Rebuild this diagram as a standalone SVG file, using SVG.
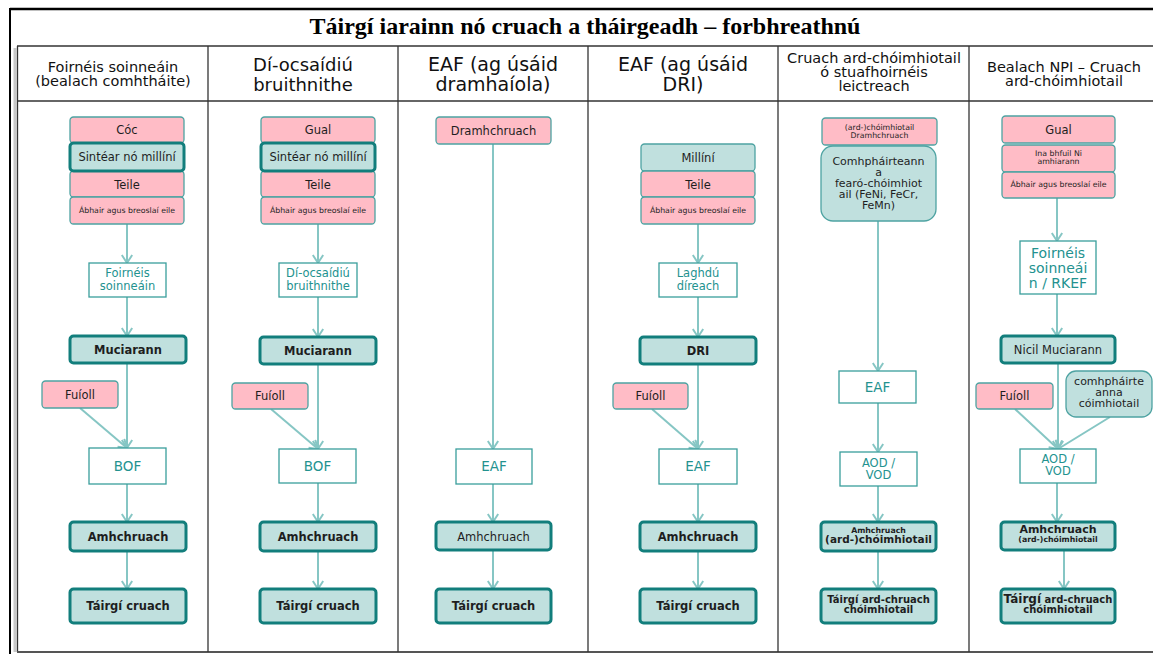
<svg xmlns="http://www.w3.org/2000/svg" width="1153" height="654" viewBox="0 0 1153 654">
<style>
.pk{fill:#FFBCC6;stroke:#4EA3A2;stroke-width:1.3}
.tl{fill:#C0E0DE;stroke:#4EA3A2;stroke-width:1.3}
.tk{fill:#C0E0DE;stroke:#127E7C;stroke-width:3}
.wb{fill:#FFFFFF;stroke:#3A9E9C;stroke-width:1.3}
text{font-family:"DejaVu Sans",Verdana,sans-serif;text-anchor:middle;fill:#1e1e1e}
.s12{font-size:11.5px}
.s11{font-size:11px}
.s7{font-size:7.8px}
.tt{fill:#23928F}
.b{font-weight:bold}
.hd{font-size:19px;fill:#111}
.hs{font-size:14.5px;fill:#111}
.c{stroke:#86C6C4;stroke-width:2;fill:none;marker-end:url(#ah)}
.grid{stroke:#333;stroke-width:1.3;fill:none}
</style>
<defs>
<marker id="ah" markerUnits="userSpaceOnUse" markerWidth="12" markerHeight="12" viewBox="0 0 12 12" refX="10" refY="6" orient="auto">
<path d="M2,0.8 L10,6 L2,11.2" fill="none" stroke="#86C6C4" stroke-width="2"/>
</marker>
</defs>
<rect width="1153" height="654" fill="#FFFFFF"/>
<g id="frame">
<line x1="10" y1="9" x2="1153" y2="9" stroke="#000" stroke-width="2.5"/>
<line x1="10" y1="8" x2="10" y2="654" stroke="#000" stroke-width="2"/>
<line x1="15" y1="48" x2="15" y2="652" stroke="#C8C8C8" stroke-width="3"/>
<text x="585" y="34" style="font-family:'Liberation Serif','Times New Roman',serif;font-weight:bold;font-size:24px;fill:#000">Táirgí iarainn nó cruach a tháirgeadh – forbhreathnú</text>
<line class="grid" x1="17" y1="46" x2="1153" y2="46"/>
<line class="grid" x1="17" y1="101" x2="1153" y2="101"/>
<line class="grid" x1="17.5" y1="46" x2="17.5" y2="652"/>
<line x1="17" y1="652" x2="1153" y2="652" stroke="#555" stroke-width="2"/>
<line class="grid" x1="208" y1="46" x2="208" y2="652"/>
<line class="grid" x1="398" y1="46" x2="398" y2="652"/>
<line class="grid" x1="588" y1="46" x2="588" y2="652"/>
<line class="grid" x1="778" y1="46" x2="778" y2="652"/>
<line class="grid" x1="969" y1="46" x2="969" y2="652"/>
</g>
<g id="headers">
<text class="hs" x="113" y="72">Foirnéis soinneáin</text>
<text class="hs" x="113" y="86">(bealach comhtháite)</text>
<text class="hd" style="font-size:18px" x="303" y="71">Dí-ocsaídiú</text>
<text class="hd" style="font-size:18px" x="303" y="91">bruithnithe</text>
<text class="hd" x="493" y="71">EAF (ag úsáid</text>
<text class="hd" x="493" y="91">dramhaíola)</text>
<text class="hd" x="683" y="71">EAF (ag úsáid</text>
<text class="hd" x="683" y="91">DRI)</text>
<text class="hs" x="874" y="63">Cruach ard-chóimhiotail</text>
<text class="hs" x="874" y="77">ó stuafhoirnéis</text>
<text class="hs" x="874" y="91">leictreach</text>
<text class="hs" x="1064" y="72">Bealach NPI – Cruach</text>
<text class="hs" x="1064" y="86">ard-chóimhiotail</text>
</g>
<g id="connectors">
<path class="c" d="M127,224 V263"/>
<path class="c" d="M127,297 V336"/>
<path class="c" d="M127,363 V448"/>
<path class="c" d="M80,408 L127,448"/>
<path class="c" d="M127,484 V522"/>
<path class="c" d="M127,551 V589"/>
<path class="c" d="M318,224 V263"/>
<path class="c" d="M318,297 V337"/>
<path class="c" d="M318,364 V449"/>
<path class="c" d="M271,409 L318,449"/>
<path class="c" d="M318,483 V522"/>
<path class="c" d="M318,551 V589"/>
<path class="c" d="M493,144 V449"/>
<path class="c" d="M493,484 V522"/>
<path class="c" d="M493,550 V589"/>
<path class="c" d="M698,224 V263"/>
<path class="c" d="M698,297 V337"/>
<path class="c" d="M698,364 V449"/>
<path class="c" d="M652,409 L698,449"/>
<path class="c" d="M698,484 V522"/>
<path class="c" d="M698,551 V589"/>
<path class="c" d="M878,221 V371"/>
<path class="c" d="M878,403 V452"/>
<path class="c" d="M878,486 V522"/>
<path class="c" d="M878,551 V589"/>
<path class="c" d="M1057,198 V241"/>
<path class="c" d="M1057,294 V336"/>
<path class="c" d="M1058,363 V449"/>
<path class="c" d="M1015,409 L1058,449"/>
<path class="c" d="M1110,417 L1058,449"/>
<path class="c" d="M1057,483 V522"/>
<path class="c" d="M1064,550 V589"/>
</g>
<!-- Column 1 -->
<g id="c1-coc"><rect class="pk" x="70" y="117" width="114" height="26" rx="3.5"/><text class="s12" x="127" y="134">Cóc</text></g>
<g id="c1-teile"><rect class="pk" x="70" y="171" width="114" height="26" rx="3.5"/><text class="s12" x="127" y="188.5">Teile</text></g>
<g id="c1-abhair"><rect class="pk" x="70" y="197" width="114" height="27" rx="3.5"/><text class="s7" x="127" y="213">Ábhair agus breoslaí eile</text></g>
<g id="c1-sintear"><rect class="tk" x="70" y="143" width="114" height="28" rx="3.5"/><text class="s12" x="127" y="161">Sintéar nó millíní</text></g>
<g id="c1-foirneis"><rect class="wb" x="89" y="263" width="77" height="34"/><text class="s12 tt" x="127.5" y="277">Foirnéis</text><text class="s12 tt" x="127.5" y="290">soinneáin</text></g>
<g id="c1-muciarann"><rect class="tk" x="70" y="336" width="116" height="27" rx="3.5"/><text class="s12 b" x="128" y="354">Muciarann</text></g>
<g id="c1-fuioll"><rect class="pk" x="42" y="381" width="76" height="27" rx="3.5"/><text class="s12" x="80" y="398.5">Fuíoll</text></g>
<g id="c1-bof"><rect class="wb" x="89" y="448" width="77" height="36"/><text class="tt" style="font-size:13.5px" x="127.5" y="471">BOF</text></g>
<g id="c1-amh"><rect class="tk" x="70" y="522" width="116" height="29" rx="3.5"/><text class="s12 b" x="128" y="541">Amhchruach</text></g>
<g id="c1-tairgi"><rect class="tk" x="70" y="589" width="116" height="34" rx="3.5"/><text class="s12 b" x="128" y="610">Táirgí cruach</text></g>
<!-- Column 2 -->
<g id="c2-gual"><rect class="pk" x="261" y="117" width="114" height="26" rx="3.5"/><text class="s12" x="318" y="134">Gual</text></g>
<g id="c2-teile"><rect class="pk" x="261" y="171" width="114" height="26" rx="3.5"/><text class="s12" x="318" y="188.5">Teile</text></g>
<g id="c2-abhair"><rect class="pk" x="261" y="197" width="114" height="27" rx="3.5"/><text class="s7" x="318" y="213">Ábhair agus breoslaí eile</text></g>
<g id="c2-sintear"><rect class="tk" x="261" y="143" width="114" height="28" rx="3.5"/><text class="s12" x="318" y="161">Sintéar nó millíní</text></g>
<g id="c2-dri"><rect class="wb" x="279" y="263" width="78" height="34"/><text class="s12 tt" x="318" y="277">Dí-ocsaídiú</text><text class="s12 tt" x="318" y="290">bruithnithe</text></g>
<g id="c2-muciarann"><rect class="tk" x="260" y="337" width="116" height="27" rx="3.5"/><text class="s12 b" x="318" y="355">Muciarann</text></g>
<g id="c2-fuioll"><rect class="pk" x="232" y="383" width="76" height="26" rx="3.5"/><text class="s12" x="270" y="400">Fuíoll</text></g>
<g id="c2-bof"><rect class="wb" x="279" y="449" width="77" height="34"/><text class="tt" style="font-size:13.5px" x="317.5" y="471">BOF</text></g>
<g id="c2-amh"><rect class="tk" x="260" y="522" width="116" height="29" rx="3.5"/><text class="s12 b" x="318" y="541">Amhchruach</text></g>
<g id="c2-tairgi"><rect class="tk" x="260" y="589" width="116" height="34" rx="3.5"/><text class="s12 b" x="318" y="610">Táirgí cruach</text></g>
<!-- Column 3 -->
<g id="c3-dramh"><rect class="pk" x="436" y="117" width="115" height="27" rx="3.5"/><text class="s12" x="493.5" y="135">Dramhchruach</text></g>
<g id="c3-eaf"><rect class="wb" x="456" y="449" width="76" height="35"/><text class="tt" style="font-size:13.5px" x="494" y="471">EAF</text></g>
<g id="c3-amh"><rect class="tk" x="436" y="522" width="115" height="28" rx="3.5"/><text class="s12" x="493.5" y="541">Amhchruach</text></g>
<g id="c3-tairgi"><rect class="tk" x="436" y="589" width="115" height="34" rx="3.5"/><text class="s12 b" x="493.5" y="610">Táirgí cruach</text></g>
<!-- Column 4 -->
<g id="c4-millini"><rect class="tl" x="641" y="144" width="114" height="27" rx="3.5"/><text class="s12" x="698" y="162">Millíní</text></g>
<g id="c4-teile"><rect class="pk" x="641" y="171" width="114" height="26" rx="3.5"/><text class="s12" x="698" y="188.5">Teile</text></g>
<g id="c4-abhair"><rect class="pk" x="641" y="197" width="114" height="27" rx="3.5"/><text class="s7" x="698" y="213">Ábhair agus breoslaí eile</text></g>
<g id="c4-laghdu"><rect class="wb" x="659" y="263" width="78" height="34"/><text class="s12 tt" x="698" y="277">Laghdú</text><text class="s12 tt" x="698" y="290">díreach</text></g>
<g id="c4-dri"><rect class="tk" x="640" y="337" width="116" height="27" rx="3.5"/><text class="s12 b" x="698" y="355">DRI</text></g>
<g id="c4-fuioll"><rect class="pk" x="613" y="383" width="75" height="26" rx="3.5"/><text class="s12" x="650.5" y="400">Fuíoll</text></g>
<g id="c4-eaf"><rect class="wb" x="659" y="449" width="78" height="35"/><text class="tt" style="font-size:13.5px" x="698" y="471">EAF</text></g>
<g id="c4-amh"><rect class="tk" x="640" y="522" width="116" height="29" rx="3.5"/><text class="s12 b" x="698" y="541">Amhchruach</text></g>
<g id="c4-tairgi"><rect class="tk" x="640" y="589" width="116" height="34" rx="3.5"/><text class="s12 b" x="698" y="610">Táirgí cruach</text></g>
<!-- Column 5 -->
<g id="c5-dramh"><rect class="pk" x="822" y="118" width="115" height="27" rx="3.5"/><text class="s7" x="879.5" y="129.5">(ard-)chóimhiotail</text><text class="s7" x="879.5" y="137.5">Dramhchruach</text></g>
<g id="c5-comh"><rect class="tl" x="821" y="146" width="115" height="75" rx="12"/><text class="s11" x="878.5" y="165">Comhpháirteann</text><text class="s11" x="878.5" y="176">a</text><text class="s11" x="878.5" y="187">fearó-chóimhiot</text><text class="s11" x="878.5" y="198">ail (FeNi, FeCr,</text><text class="s11" x="878.5" y="209">FeMn)</text></g>
<g id="c5-eaf"><rect class="wb" x="839" y="371" width="77" height="32"/><text class="tt" style="font-size:13.5px" x="877.5" y="392">EAF</text></g>
<g id="c5-aod"><rect class="wb" x="840" y="452" width="77" height="34"/><text class="s12 tt" x="878.5" y="467">AOD /</text><text class="s12 tt" x="878.5" y="479">VOD</text></g>
<g id="c5-amh"><rect class="tk" x="821" y="522" width="115" height="29" rx="3.5"/><text class="s7 b" x="878.5" y="533">Amhchruach</text><text class="b" style="font-size:10.5px" x="878.5" y="543">(ard-)chóimhiotail</text></g>
<g id="c5-tairgi"><rect class="tk" x="821" y="589" width="115" height="34" rx="3.5"/><text class="b" style="font-size:10px" x="878.5" y="603">Táirgí ard-chruach</text><text class="b" style="font-size:10px" x="878.5" y="612.5">chóimhiotail</text></g>
<!-- Column 6 -->
<g id="c6-gual"><rect class="pk" x="1002" y="116" width="113" height="27" rx="3.5"/><text class="s12" x="1058.5" y="134">Gual</text></g>
<g id="c6-ni"><rect class="pk" x="1002" y="145" width="113" height="27" rx="3.5"/><text class="s7" x="1058.5" y="156">Ina bhfuil Ni</text><text class="s7" x="1058.5" y="164">amhiarann</text></g>
<g id="c6-abhair"><rect class="pk" x="1002" y="172" width="113" height="26" rx="3.5"/><text class="s7" x="1058.5" y="187">Ábhair agus breoslaí eile</text></g>
<g id="c6-rkef"><rect class="wb" x="1020" y="241" width="76" height="53"/><text class="tt" style="font-size:14px" x="1058" y="258">Foirnéis</text><text class="tt" style="font-size:14px" x="1058" y="273">soinneái</text><text class="tt" style="font-size:14px" x="1058" y="288">n / RKEF</text></g>
<g id="c6-nicil"><rect class="tk" x="1001" y="336" width="114" height="27" rx="3.5"/><text class="s12" x="1058" y="354">Nicil Muciarann</text></g>
<g id="c6-fuioll"><rect class="pk" x="976" y="383" width="77" height="26" rx="3.5"/><text class="s12" x="1014.5" y="400">Fuíoll</text></g>
<g id="c6-comh"><rect class="tl" x="1066" y="371" width="86" height="46" rx="10"/><text class="s11" x="1109" y="384.5">comhpháirte</text><text class="s11" x="1109" y="395.5">anna</text><text class="s11" x="1109" y="406.5">cóimhiotail</text></g>
<g id="c6-aod"><rect class="wb" x="1020" y="449" width="76" height="34"/><text class="s12 tt" x="1058" y="463">AOD /</text><text class="s12 tt" x="1058" y="475">VOD</text></g>
<g id="c6-amh"><rect class="tk" x="1001" y="522" width="114" height="28" rx="3.5"/><text class="b" style="font-size:11px" x="1058" y="533">Amhchruach</text><text class="s7 b" x="1058" y="542">(ard-)chóimhiotail</text></g>
<g id="c6-tairgi"><rect class="tk" x="1001" y="589" width="114" height="34" rx="3.5"/><text class="b" style="font-size:10px" x="1058" y="603"><tspan style="font-size:12px">Táirgí</tspan> ard-chruach</text><text class="b" style="font-size:10px" x="1058" y="612.5">chóimhiotail</text></g>
</svg>
